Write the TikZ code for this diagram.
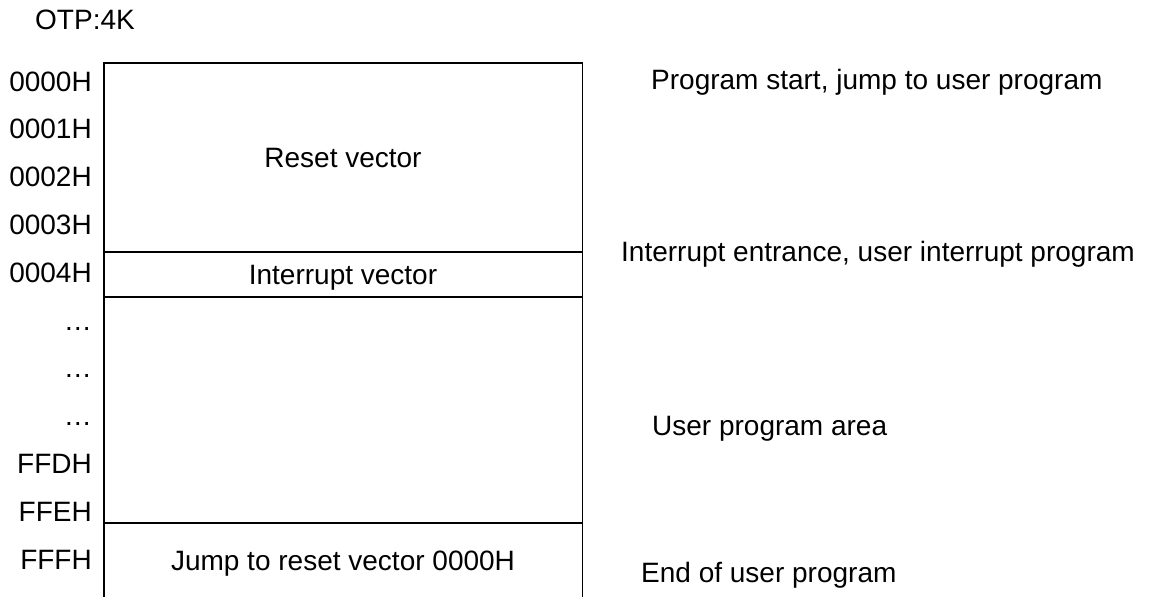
\documentclass[tikz,border=0pt]{standalone}
\usepackage{fontspec}
\setmainfont{Liberation Sans}
\begin{document}
\begin{tikzpicture}[x=1pt,y=-1pt,
  txt/.style={inner sep=0pt,font=\fontsize{28}{32}\selectfont},
  memline/.style={line width=1.4pt}]
\pgfmathsetmacro\rowstep{47.8}
\pgfmathsetmacro\xl{104}
\pgfmathsetmacro\xr{582.5}
\useasboundingbox (0,0) rectangle (1152,597);
\node[txt,anchor=base west] (title) at (35,30) {OTP:4K};
% memory block, open at the bottom
\draw[memline] (\xl,597) -- (\xl,63) -- (\xr,63) -- (\xr,597);
\draw[memline] (\xl,252) -- (\xr,252);
\draw[memline] (\xl,297) -- (\xr,297);
\draw[memline] (\xl,523) -- (\xr,523);
% addresses
\foreach \lab [count=\i from 0] in {0000H,0001H,0002H,0003H,0004H,{\ldots},{\ldots},{\ldots},FFDH,FFEH,FFFH}
  \node[txt,anchor=base east] (addr\i) at (92,91+\rowstep*\i) {\lab};
% contents
\node[txt,anchor=base] (reset) at (343,167) {Reset vector};
\node[txt,anchor=base] (intvec) at (343,284) {Interrupt vector};
\node[txt,anchor=base] (jump) at (343,570) {Jump to reset vector 0000H};
% notes
\node[txt,anchor=base west] (nstart) at (651,89) {Program start, jump to user program};
\node[txt,anchor=base west] (nint) at (621,261) {Interrupt entrance, user interrupt program};
\node[txt,anchor=base west] (nuser) at (652,435) {User program area};
\node[txt,anchor=base west] (nend) at (641,582) {End of user program};
\end{tikzpicture}
\end{document}
